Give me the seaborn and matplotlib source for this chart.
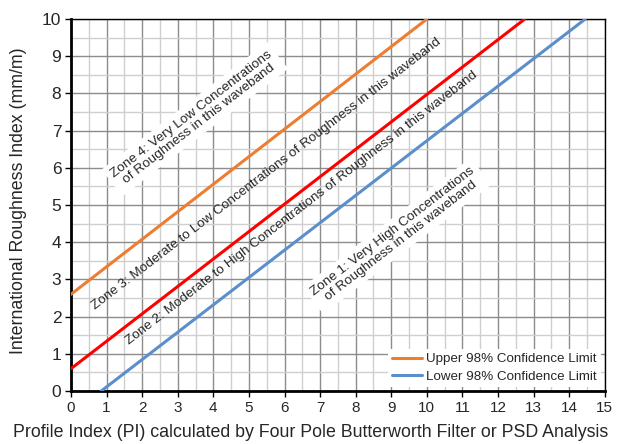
"""
IRI vs Profile Index zone chart
"""

import pandas as pd
import numpy as np
import matplotlib
matplotlib.use('Agg')
import matplotlib.pyplot as plt
import seaborn as sns
from matplotlib.ticker import MultipleLocator
from matplotlib import font_manager

# 数据: 三条边界线的端点 (PI, IRI)
upper_pi = [0.0, 10.0]
upper_iri = [2.6, 10.0]
mid_pi = [0.0, 12.75]
mid_iri = [0.6, 10.0]
lower_pi = [0.85, 14.45]
lower_iri = [0.0, 10.0]

# 区域说明文字及其位置 (数据坐标)
zone_texts = [
    "Zone 4: Very Low Concentrations\nof Roughness in this waveband",
    "Zone 3: Moderate to Low Concentrations of Roughness in this waveband",
    "Zone 2: Moderate to High Concentrations of Roughness in this waveband",
    "Zone 1: Very High Concentrations\nof Roughness in this waveband",
]
zone_x = [3.48, 5.48, 6.49, 9.16]
zone_y = [7.31, 5.83, 4.92, 4.17]
zone_boxed = [True, False, False, True]

x_ticks = list(range(0, 16))
y_ticks = list(range(0, 11))

sns.set_theme(style="white")
plt.rcParams['font.family'] = ['Liberation Sans', 'DejaVu Sans']

# 区域文字用窄体 (如果有的话)
try:
    font_manager.findfont('Liberation Sans Narrow', fallback_to_default=False)
    zone_family = ['Liberation Sans Narrow']
    zone_size = 11.5
except Exception:
    zone_family = ['Liberation Sans']
    zone_size = 9.7

fig = plt.figure(figsize=(6.19, 4.44), dpi=100)
ax = fig.add_axes([0.1147, 0.1194, 0.977 - 0.1147, 0.957 - 0.1194])

df_upper = pd.DataFrame({'PI': upper_pi, 'IRI': upper_iri})
df_mid = pd.DataFrame({'PI': mid_pi, 'IRI': mid_iri})
df_lower = pd.DataFrame({'PI': lower_pi, 'IRI': lower_iri})

sns.lineplot(data=df_upper, x='PI', y='IRI', color='#ED7D31', lw=2.2,
             label='Upper 98% Confidence Limit', ax=ax, zorder=3)
sns.lineplot(data=df_mid, x='PI', y='IRI', color='#FF0000', lw=2.2,
             legend=False, ax=ax, zorder=3)
sns.lineplot(data=df_lower, x='PI', y='IRI', color='#5B8FCB', lw=2.2,
             label='Lower 98% Confidence Limit', ax=ax, zorder=3)

ax.set_xlim(0, 15)
ax.set_ylim(0, 10)
ax.set_xticks(x_ticks)
ax.set_yticks(y_ticks)
ax.xaxis.set_minor_locator(MultipleLocator(0.5))
ax.yaxis.set_minor_locator(MultipleLocator(0.5))
ax.grid(which='major', color='#8c8c8c', lw=1.0, zorder=0)
ax.grid(which='minor', color='#cfcfcf', lw=1.0, zorder=0)
ax.set_axisbelow(True)

ax.tick_params(axis='both', which='major', length=4, width=1, color='black',
               direction='out', bottom=True, left=True, pad=3)
ax.tick_params(axis='x', which='major', labelsize=11)
ax.tick_params(axis='y', which='major', labelsize=12.5)
ax.tick_params(axis='both', which='minor', length=0)

for side in ['left', 'bottom']:
    ax.spines[side].set_color('black')
    ax.spines[side].set_linewidth(2.0)
for side in ['top', 'right']:
    ax.spines[side].set_color('black')
    ax.spines[side].set_linewidth(1.0)

ax.set_xlabel('Profile Index (PI) calculated by Four Pole Butterworth Filter or PSD Analysis',
              fontsize=12.8)
ax.set_ylabel('International Roughness Index (mm/m)', fontsize=12.8)
ax.xaxis.set_label_coords(0.448, -0.088)
ax.yaxis.set_label_coords(-0.082, 0.513)

# 区域文字
for txt, x, y, boxed in zip(zone_texts, zone_x, zone_y, zone_boxed):
    t = ax.text(x, y, txt, rotation=37.6, rotation_mode='anchor', ha='center',
                va='center', fontsize=zone_size, family=zone_family,
                linespacing=1.05, zorder=4)
    if boxed:
        t.set_bbox(dict(boxstyle='square,pad=0.35', fc='white', ec='none'))

leg = ax.legend(loc='lower right', fontsize=9.6, frameon=True, fancybox=False,
                handlelength=2.25, handletextpad=0.3, borderaxespad=0.3,
                labelspacing=0.4, borderpad=0.3)
leg.get_frame().set_facecolor('white')
leg.get_frame().set_edgecolor('none')
leg.get_frame().set_alpha(1.0)

fig.savefig('out.png', dpi=100)
